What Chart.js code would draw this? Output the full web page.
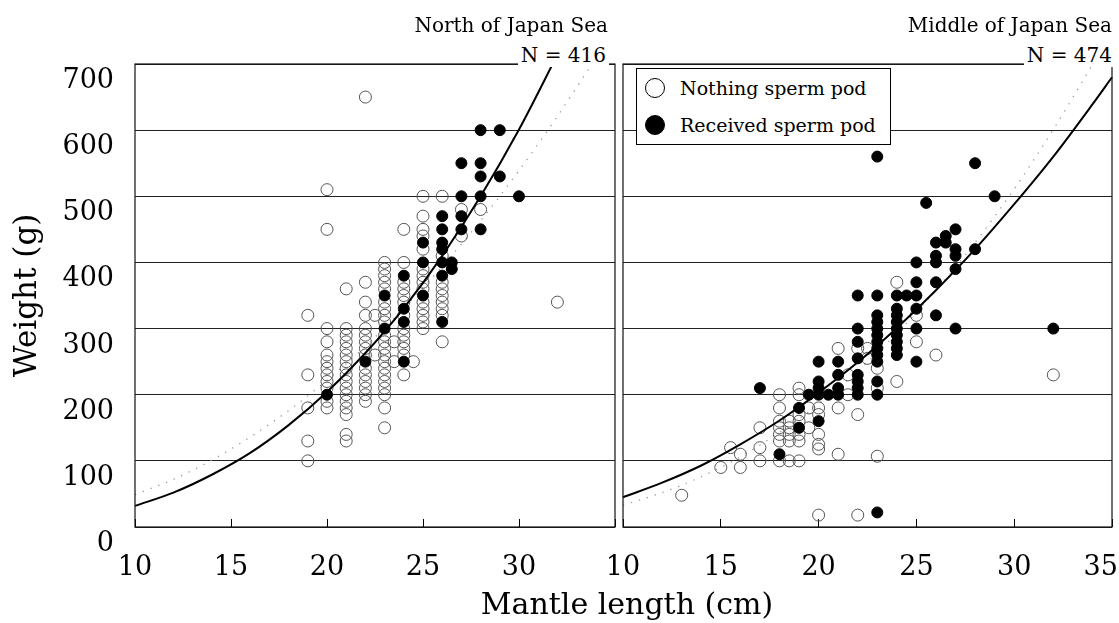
<!DOCTYPE html>
<html><head><meta charset="utf-8">
<script src="https://cdn.jsdelivr.net/npm/chart.js@4.4.1/dist/chart.umd.min.js"></script>
<style>
html,body{margin:0;padding:0;background:#fff;width:1119px;height:623px;overflow:hidden;}
#wrap{position:relative;width:1119px;height:623px;}
canvas{position:absolute;top:0;}
#cL{left:0;}
#cR{left:598px;}
.t{position:absolute;font-family:"DejaVu Serif",serif;color:#000;white-space:nowrap;}
.ttl{font-size:20px;line-height:20px;text-align:right;}
.gap{background:#fff;padding:0 3px;line-height:22px;}
#legend{position:absolute;left:636px;top:68px;width:253px;height:75px;border:1.5px solid #000;background:#fff;}
.dot{position:absolute;width:20px;height:20px;border-radius:50%;border:1.5px solid #000;box-sizing:border-box;}
.lt{font-size:19px;line-height:19px;}
</style></head>
<body><div id="wrap">
<canvas id="cL" width="622" height="623"></canvas>
<canvas id="cR" width="521" height="623"></canvas>
<div class="t ttl" style="right:511px;top:15px;">North of Japan Sea</div>
<div class="t ttl" style="right:510px;top:44px;"><span class="gap">N = 416</span></div>
<div class="t ttl" style="right:7px;top:15px;">Middle of Japan Sea</div>
<div class="t ttl" style="right:4px;top:44px;"><span class="gap">N = 474</span></div>
<div id="legend"></div>
<div class="dot" style="left:645px;top:78px;background:#fff;"></div>
<div class="dot" style="left:645px;top:115px;background:#000;"></div>
<div class="t lt" style="left:680px;top:79px;">Nothing sperm pod</div>
<div class="t lt" style="left:680px;top:116px;">Received sperm pod</div>
<div class="t" style="left:327px;width:600px;text-align:center;top:589px;font-size:30px;line-height:30px;">Mantle length (cm)</div>
</div>
<script>
// ---- data ----
const xTicks = [10, 15, 20, 25, 30, 35];
const yTicks = [0, 100, 200, 300, 400, 500, 600, 700];

// North of Japan Sea (N = 416)
const northNothing = [
 [19,100],[19,130],[19,180],[19,230],[19,320],
 [20,180],[20,190],[20,210],[20,220],[20,230],[20,240],[20,250],[20,260],[20,280],[20,300],[20,450],[20,510],
 [21,130],[21,140],[21,170],[21,180],[21,190],[21,200],[21,210],[21,220],[21,230],[21,240],[21,250],[21,260],[21,270],[21,280],[21,290],[21,300],[21,360],
 [22,190],[22,200],[22,210],[22,220],[22,230],[22,240],[22,260],[22,270],[22,280],[22,290],[22,300],[22,320],[22,340],[22,370],[22,650],
 [22.5,260],[22.5,320],
 [23,150],[23,180],[23,200],[23,210],[23,220],[23,230],[23,240],[23,250],[23,260],[23,270],[23,280],[23,290],[23,310],[23,320],[23,330],[23,340],[23,360],[23,370],[23,380],[23,390],[23,400],
 [23.5,250],[23.5,280],
 [24,230],[24,260],[24,270],[24,280],[24,290],[24,300],[24,320],[24,340],[24,350],[24,360],[24,370],[24,400],[24,450],
 [24.5,250],
 [25,300],[25,310],[25,320],[25,330],[25,340],[25,360],[25,370],[25,380],[25,390],[25,420],[25,440],[25,450],[25,470],[25,500],
 [26,280],[26,320],[26,330],[26,340],[26,350],[26,360],[26,370],[26,410],[26,500],
 [27,440],[27,480],[28,480],[32,340]
];
const northReceived = [
 [20,200],[22,250],[23,300],[23,350],[24,250],[24,310],[24,330],[24,380],
 [25,350],[25,400],[25,430],
 [26,310],[26,380],[26,400],[26,420],[26,430],[26,450],[26,470],
 [26.5,390],[26.5,400],
 [27,450],[27,470],[27,500],[27,550],
 [28,450],[28,500],[28,530],[28,550],[28,600],
 [29,530],[29,600],[30,500]
];
const northFit = [[10,32],[12,52],[14,79],[16,112],[18,154],[20,204],[22,263],[24,331],[26,410],[28,500],[30,601],[32,714]];
const northFit2 = [[10,49],[12,72],[14,101],[16,136],[18,176],[20,222],[22,273],[24,331],[26,394],[28,463],[30,539],[32,621],[34,709]];

// Middle of Japan Sea (N = 474)
const middleNothing = [
 [13,48],[15,90],[15.5,120],[16,110],[16,90],[17,150],[17,120],[17,100],
 [18,200],[18,180],[18,160],[18,150],[18,140],[18,130],[18,100],
 [18.5,160],[18.5,150],[18.5,140],[18.5,130],[18.5,100],
 [19,210],[19,200],[19,170],[19,160],[19,140],[19,130],[19,100],
 [19.5,180],[19.5,150],
 [20,180],[20,170],[20,140],[20,125],[20,118],[20,18],
 [21,270],[21,180],[21,110],[21.5,230],[21.5,200],
 [22,270],[22,170],[22,18],[22.5,270],[22.5,255],
 [23,240],[23,210],[23,107],
 [24,370],[24,220],[25,320],[25,280],[26,260],[32,230]
];
const middleReceived = [
 [17,210],[18,110],[19,180],[19,150],[19.5,200],
 [20,250],[20,220],[20,210],[20,200],[20,160],[20.5,200],
 [21,250],[21,230],[21,210],[21,200],
 [22,350],[22,300],[22,280],[22,255],[22,230],[22,220],[22,210],[22,200],
 [23,560],[23,350],[23,320],[23,310],[23,300],[23,290],[23,280],[23,270],[23,260],[23,250],[23,220],[23,200],[23,22],
 [24,350],[24,330],[24,320],[24,310],[24,300],[24,290],[24,280],[24,270],[24,260],[24.5,350],
 [25,400],[25,370],[25,350],[25,330],[25,300],[25,250],[25.5,490],
 [26,430],[26,410],[26,400],[26,370],[26,320],[26.5,440],[26.5,430],
 [27,450],[27,420],[27,410],[27,390],[27,300],
 [28,550],[28,420],[29,500],[32,300]
];
const middleFit = [[10,45],[12,67],[14,93],[16,125],[18,161],[20,203],[22,249],[24,301],[26,358],[28,420],[30,488],[32,560],[34,639],[35,680]];
const middleFit2 = [[10,33],[12,52],[14,76],[16,106],[18,143],[20,186],[22,236],[24,293],[26,358],[28,430],[30,511],[32,601],[34,699]];

// ---- rendering ----
const serif = "'DejaVu Serif', serif";
const toXY = arr => arr.map(p => ({x: p[0], y: p[1]}));

const framePlugin = {
  id: 'frame',
  afterDatasetsDraw(chart) {
    const {ctx, chartArea: a} = chart;
    ctx.save();
    ctx.strokeStyle = '#111';
    ctx.lineWidth = 1.2;
    ctx.strokeRect(a.left, a.top, a.right - a.left, a.bottom - a.top);
    ctx.restore();
  }
};

function panel(id, nothing, received, fit, fit2, isLeft) {
  return new Chart(document.getElementById(id), {
    type: 'scatter',
    data: {
      datasets: [
        {label: 'fit', data: toXY(fit), showLine: true, borderColor: '#000', borderWidth: 2,
         pointRadius: 0, cubicInterpolationMode: 'monotone', order: 0, clip: 1},
        {label: 'Received sperm pod', data: toXY(received), pointRadius: 5.5,
         backgroundColor: '#000', borderColor: '#000', borderWidth: 1, order: 1},
        {label: 'Nothing sperm pod', data: toXY(nothing), pointRadius: 6,
         backgroundColor: 'rgba(255,255,255,0)', borderColor: '#555', borderWidth: 1, order: 2},
        {label: 'fit2', data: toXY(fit2), showLine: true, borderColor: '#9a9a9a', borderWidth: 1.3,
         borderDash: [1.3, 7], pointRadius: 0, cubicInterpolationMode: 'monotone', order: 3, clip: 1}
      ]
    },
    options: {
      responsive: false,
      animation: false,
      devicePixelRatio: 1,
      layout: {padding: {top: 64, right: isLeft ? 3 : 4, bottom: 0, left: 0}},
      plugins: {legend: {display: false}, tooltip: {enabled: false}, title: {display: false}},
      scales: {
        x: {
          type: 'linear', min: 10, max: 35,
          afterBuildTicks: s => { s.ticks = xTicks.map(v => ({value: v})); },
          ticks: {
            autoSkip: false, maxRotation: 0, color: '#000', padding: 33,
            font: {family: serif, size: 27},
            callback: v => (v === 35 ? (isLeft ? '' : '35\u2007\u2009') : String(v))
          },
          grid: {drawOnChartArea: false, drawTicks: true, tickLength: -8, color: '#000', lineWidth: 1},
          border: {display: false},
          afterFit: s => { s.height = 96; s.paddingLeft = 0; s.paddingRight = 0; }
        },
        y: {
          min: 0, max: 700,
          afterBuildTicks: s => { s.ticks = yTicks.map(v => ({value: v})); },
          ticks: {display: isLeft, color: '#000', padding: 21, labelOffset: 17,
                  font: {family: serif, size: 27}},
          grid: {color: '#222', lineWidth: 1, drawTicks: false},
          border: {display: false},
          title: {display: isLeft, text: 'Weight (g)', color: '#000',
                  font: {family: serif, size: 31}, padding: {top: 9, bottom: 0}},
          afterFit: s => { s.width = isLeft ? 135 : 25; s.paddingTop = 0; s.paddingBottom = 0; }
        }
      }
    },
    plugins: [framePlugin]
  });
}

panel('cL', northNothing, northReceived, northFit, northFit2, true);
panel('cR', middleNothing, middleReceived, middleFit, middleFit2, false);
</script>
</body></html>
